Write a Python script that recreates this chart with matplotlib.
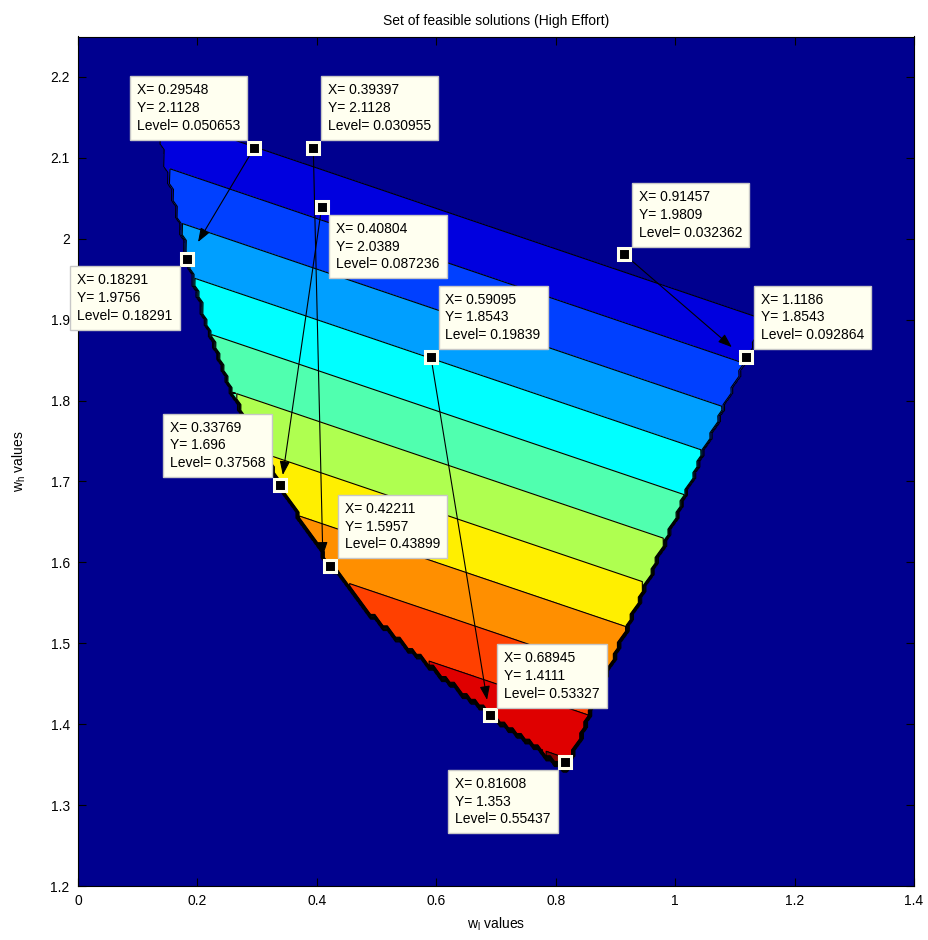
import numpy as np
import matplotlib
matplotlib.use('Agg')
import matplotlib.pyplot as plt
from matplotlib.path import Path

plt.rcParams['font.family'] = ['Liberation Sans', 'DejaVu Sans']
plt.rcParams['mathtext.fontset'] = 'custom'
plt.rcParams['mathtext.rm'] = 'Liberation Sans'

# ---------------- data ----------------
# objective read off the datatips: Level = c0 + cx*x + cy*y
c0, cx, cy = 1.8, -0.2, -0.8

# feasible region boundary (data coords)
boundary_x = [0.817, 0.858, 0.920, 0.988, 1.050, 1.114, 1.170, 1.300,
              0.120, 0.137, 0.145, 0.165, 0.18291, 0.215, 0.245, 0.270,
              0.300, 0.33769, 0.380, 0.42211, 0.494, 0.568, 0.630,
              0.68945, 0.750]
boundary_y = [1.340, 1.414, 1.520, 1.631, 1.739, 1.842, 1.940, 2.260,
              2.260, 2.130, 2.090, 2.030, 1.9756, 1.890, 1.830, 1.790,
              1.750, 1.696, 1.642, 1.5957, 1.532, 1.484, 1.446,
              1.4111, 1.381]

levels = [0.0, 0.05, 0.10, 0.15, 0.20, 0.25, 0.30, 0.35, 0.40, 0.45, 0.50, 0.55]

# datatips
tip_x = [0.29548, 0.39397, 0.40804, 0.18291, 0.91457, 1.1186, 0.59095,
         0.33769, 0.42211, 0.68945, 0.81608]
tip_y = [2.1128, 2.1128, 2.0389, 1.9756, 1.9809, 1.8543, 1.8543,
         1.696, 1.5957, 1.4111, 1.353]
tip_level = [0.050653, 0.030955, 0.087236, 0.18291, 0.032362, 0.092864,
             0.19839, 0.37568, 0.43899, 0.53327, 0.55437]
tip_corner = ['ul', 'ur', 'lr', 'll', 'ur', 'ur', 'ur', 'ul', 'ur', 'ur', 'll']

# arrows: start tip index -> end point
arrow_from = [0, 1, 2, 6, 4]
arrow_end_x = [0.201, 0.410, 0.343, 0.685, 1.095]
arrow_end_y = [1.996, 1.608, 1.708, 1.430, 1.866]

x_ticks = [0, 0.2, 0.4, 0.6, 0.8, 1, 1.2, 1.4]
x_ticklabels = ['0', '0.2', '0.4', '0.6', '0.8', '1', '1.2', '1.4']
y_ticks = [1.2, 1.3, 1.4, 1.5, 1.6, 1.7, 1.8, 1.9, 2.0, 2.1, 2.2]
y_ticklabels = ['1.2', '1.3', '1.4', '1.5', '1.6', '1.7', '1.8', '1.9', '2', '2.1', '2.2']


def matlab_jet(m=64):
    n = m // 4
    u = np.concatenate([np.arange(1, n + 1) / n, np.ones(n - 1), np.arange(n, 0, -1) / n])
    g = (np.ceil(n / 2) - (m % 4 == 1) + np.arange(1, len(u) + 1)).astype(int)
    r = g + n
    b = g - n
    J = np.zeros((m, 3))
    for arr, col in ((r, 0), (g, 1), (b, 2)):
        ok = (arr >= 1) & (arr <= m)
        J[arr[ok] - 1, col] = u[ok]
    return J


# grid
gx = np.arange(0.0, 1.4001, 0.007)
gy = np.arange(1.2, 2.2501, 0.007)
X, Y = np.meshgrid(gx, gy)
poly = Path(np.column_stack([boundary_x, boundary_y]))
inside = poly.contains_points(np.column_stack([X.ravel(), Y.ravel()])).reshape(X.shape)
F = np.maximum(c0 + cx * X + cy * Y, 0.0)
Z = np.where(inside, F, 0.0)
zmax = max(tip_level)

jet = matlab_jet(64)
fill_levels = levels + [max(Z.max(), levels[-1]) + 0.01]
fill_colors = [tuple(jet[min(int(L / zmax * 64), 63)]) for L in levels]

navy = tuple(jet[0])

fig = plt.figure(figsize=(9.29, 9.40), dpi=100)
ax = fig.add_axes([78 / 929, 1 - 886 / 940, (914 - 78) / 929, (886 - 36.5) / 940])
ax.set_facecolor(navy)

ax.contourf(X, Y, Z, levels=fill_levels, colors=fill_colors)
ax.contour(X, Y, Z, levels=levels[1:], colors='k', linewidths=0.8)

# arrows
for i, ex, ey in zip(arrow_from, arrow_end_x, arrow_end_y):
    ax.annotate('', xy=(ex, ey), xytext=(tip_x[i], tip_y[i]),
                arrowprops=dict(arrowstyle='-|>,head_length=0.6,head_width=0.22',
                                color='k', lw=0.8, mutation_scale=14,
                                shrinkA=0, shrinkB=0),
                annotation_clip=False, zorder=4)

# markers
ax.plot(tip_x, tip_y, 's', ms=9, mfc='k', mec=(1, 1, 0.92), mew=2.2, zorder=5,
        clip_on=False)

# datatip boxes
off = 10.5
corner_cfg = {
    'ul': ((-off, off), 'right', 'bottom'),
    'ur': ((off, off), 'left', 'bottom'),
    'lr': ((off, -off), 'left', 'top'),
    'll': ((-off, -off), 'right', 'top'),
}
for x, y, lv, c in zip(tip_x, tip_y, tip_level, tip_corner):
    (dx, dy), ha, va = corner_cfg[c]
    txt = 'X= %s\nY= %s\nLevel= %s' % ('%.5g' % x, '%.5g' % y, '%.5g' % lv)
    ax.annotate(txt, xy=(x, y), xytext=(dx, dy), textcoords='offset points',
                ha=ha, va=va, multialignment='left', fontsize=10,
                linespacing=1.34,
                bbox=dict(boxstyle='square,pad=0.5', fc=(1, 1, 0.94),
                          ec=(0.78, 0.78, 0.78), lw=1),
                annotation_clip=False, zorder=6)

ax.set_xlim(0, 1.4)
ax.set_ylim(1.2, 2.25)
ax.set_xticks(x_ticks)
ax.set_xticklabels(x_ticklabels)
ax.set_yticks(y_ticks)
ax.set_yticklabels(y_ticklabels)
ax.tick_params(direction='in', top=True, right=True, length=6, width=0.8,
               labelsize=10, pad=6)
for s in ax.spines.values():
    s.set_linewidth(0.8)

ax.set_title('Set of feasible solutions (High Effort)', fontsize=10, pad=8)
ax.set_xlabel(r'w$_\mathrm{l}$ values', fontsize=10, labelpad=5)
ax.set_ylabel(r'w$_\mathrm{h}$ values', fontsize=10, labelpad=16)

fig.savefig('out.png', dpi=100)
